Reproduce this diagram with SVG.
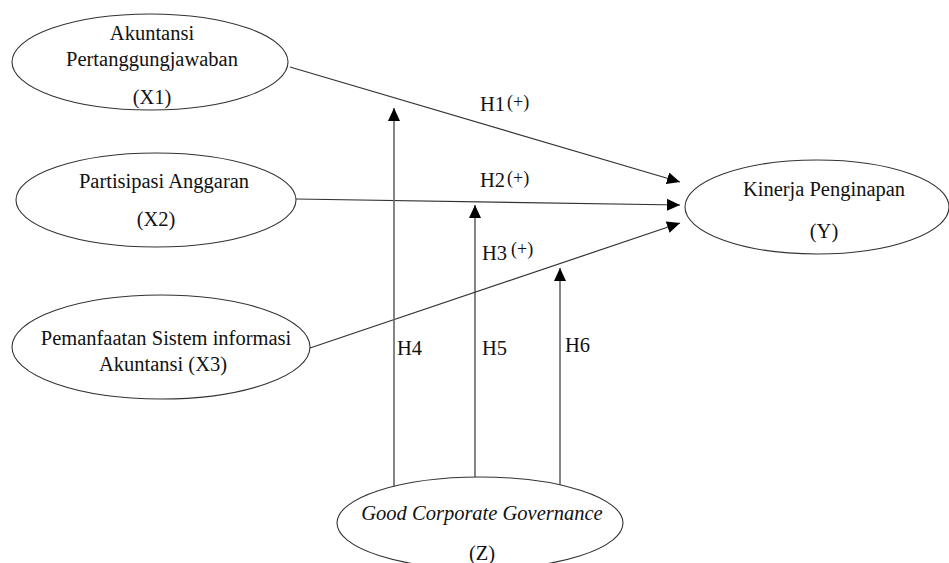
<svg xmlns="http://www.w3.org/2000/svg" width="949" height="563" viewBox="0 0 949 563">
<style>
.node ellipse{fill:#fff;stroke:#333;stroke-width:1.1}
text{font-family:"Liberation Serif","Times New Roman",serif;font-size:20.5px;fill:#111}
.c{text-anchor:middle}
.conn line{stroke:#333;stroke-width:1.2;fill:none}
.conn line.g{stroke:#666;stroke-width:1.6}
.lbl text.p{font-size:18px}
</style>
<defs>
<marker id="ah" markerUnits="userSpaceOnUse" markerWidth="14" markerHeight="12" refX="13" refY="6" orient="auto">
<path d="M0,0 L13,6 L0,12 z" fill="#000"/>
</marker>
</defs>
<rect width="949" height="563" fill="#fff"/>
<g class="conn">
<line x1="290" y1="67" x2="680" y2="182" marker-end="url(#ah)"/>
<line x1="296" y1="199" x2="680" y2="205" marker-end="url(#ah)"/>
<line x1="310" y1="348" x2="680" y2="223" marker-end="url(#ah)"/>
<line class="g" x1="394" y1="487" x2="394" y2="108" marker-end="url(#ah)"/>
<line x1="475" y1="478" x2="475" y2="205" marker-end="url(#ah)"/>
<line class="g" x1="560" y1="487" x2="560" y2="268" marker-end="url(#ah)"/>
</g>
<g id="X1" class="node">
<ellipse cx="150" cy="62" rx="138" ry="48"/>
<text class="c" x="152" y="40">Akuntansi</text>
<text class="c" x="152" y="66">Pertanggungjawaban</text>
<text class="c" x="152" y="104">(X1)</text>
</g>
<g id="X2" class="node">
<ellipse cx="156" cy="200" rx="140" ry="47"/>
<text class="c" x="164" y="188">Partisipasi Anggaran</text>
<text class="c" x="156" y="226">(X2)</text>
</g>
<g id="X3" class="node">
<ellipse cx="161" cy="347" rx="149" ry="52"/>
<text class="c" x="166" y="345">Pemanfaatan Sistem informasi</text>
<text class="c" x="163" y="371">Akuntansi (X3)</text>
</g>
<g id="Y" class="node">
<ellipse cx="817" cy="207" rx="132" ry="47"/>
<text class="c" x="824" y="196">Kinerja Penginapan</text>
<text class="c" x="824" y="238">(Y)</text>
</g>
<g id="Z" class="node">
<ellipse cx="480" cy="523" rx="143" ry="46"/>
<text class="c" x="482" y="520" font-style="italic">Good Corporate Governance</text>
<text class="c" x="482" y="560">(Z)</text>
</g>
<g class="lbl">
<text x="480" y="111">H1</text><text class="p" x="507" y="108">(+)</text>
<text x="480" y="187">H2</text><text class="p" x="507" y="184">(+)</text>
<text x="482" y="260">H3</text><text class="p" x="511" y="255">(+)</text>
<text x="397" y="355">H4</text>
<text x="482" y="355">H5</text>
<text x="565" y="352">H6</text>
</g>
</svg>
